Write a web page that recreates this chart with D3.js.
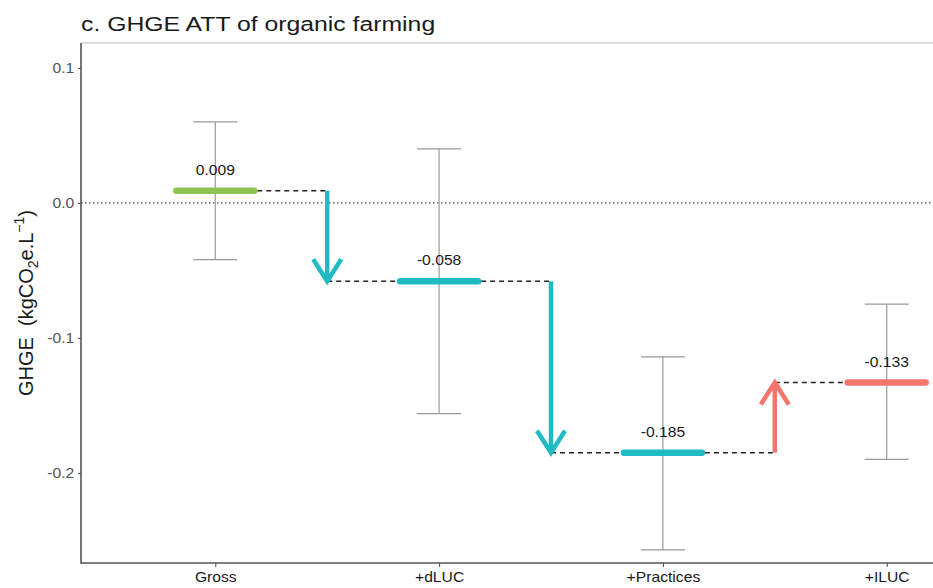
<!DOCTYPE html>
<html lang="en">
<head>
    <meta charset="UTF-8">
    <title>GHGE ATT of organic farming</title>
    <style>
        body { margin: 0; background: #fff; }
        svg { display: block; font-family: "Liberation Sans", Arial, sans-serif; }
    </style>
</head>
<body>
    <svg width="933" height="588"></svg>

    <script src="https://d3js.org/d3.v7.min.js"></script>
    <script>
        // chart data
        const categories = ["Gross", "+dLUC", "+Practices", "+ILUC"];
        const values = [0.009, -0.058, -0.185, -0.133];
        const upper = [0.060, 0.040, -0.114, -0.075];
        const lower = [-0.042, -0.156, -0.257, -0.190];
        const valueLabels = ["0.009", "-0.058", "-0.185", "-0.133"];
        const yTicks = [0.1, 0.0, -0.1, -0.2];
        const yTickLabels = ["0.1", "0.0", "-0.1", "-0.2"];

        const colGross = "#8fc350", colDown = "#1fbac2", colUp = "#f2766c";

        const svg = d3.select("svg");
        const panelLeft = 81, panelTop = 43, panelBottom = 563, panelRight = 1021;
        const stretch = 1.12; // the reference text is a bit wide

        const x = d3.scalePoint().domain(categories).range([panelLeft, panelRight]).padding(0.6);
        const y = d3.scaleLinear().domain([-0.2667, 0.1185]).range([panelBottom, panelTop]);

        // title
        svg.append("text")
            .attr("transform", "translate(81,31) scale(1.18,1)")
            .style("font-size", "21px").style("fill", "#1a1a1a")
            .text("c. GHGE ATT of organic farming");

        // panel top border
        svg.append("line")
            .attr("x1", panelLeft).attr("x2", 933).attr("y1", panelTop).attr("y2", panelTop)
            .style("stroke", "#bbb").style("stroke-width", 1);

        // zero reference line
        svg.append("line")
            .attr("x1", panelLeft).attr("x2", 933).attr("y1", y(0)).attr("y2", y(0))
            .style("stroke", "#444").style("stroke-width", 1.3)
            .style("stroke-dasharray", "1.5,2.5");

        // axes
        const yAxis = d3.axisLeft(y).tickValues(yTicks)
            .tickFormat((d, i) => yTickLabels[i]).tickSize(3).tickPadding(3);
        const gy = svg.append("g").attr("transform", `translate(${panelLeft},0)`).call(yAxis);
        gy.select(".domain").remove();
        gy.selectAll("line").style("stroke", "#444");
        gy.selectAll("text").style("font-size", "14px").style("fill", "#555")
            .style("font-family", "Liberation Sans, Arial, sans-serif")
            .attr("transform", `scale(${stretch},1)`);

        const xAxis = d3.axisBottom(x).tickSize(4).tickPadding(5);
        const gx = svg.append("g").attr("transform", `translate(0,${panelBottom})`).call(xAxis);
        gx.select(".domain").remove();
        gx.selectAll("line").style("stroke", "#444");
        gx.selectAll("text").style("font-size", "14px").style("fill", "#1a1a1a")
            .style("font-family", "Liberation Sans, Arial, sans-serif")
            .attr("transform", `scale(${stretch},1)`);

        svg.append("line").attr("x1", panelLeft).attr("x2", panelLeft).attr("y1", panelTop).attr("y2", panelBottom + 0.8)
            .style("stroke", "#555").style("stroke-width", 1.6);
        svg.append("line").attr("x1", panelLeft).attr("x2", 933).attr("y1", panelBottom).attr("y2", panelBottom)
            .style("stroke", "#555").style("stroke-width", 1.6);

        // y label
        const yl = svg.append("text")
            .attr("transform", `translate(33,${(panelTop + panelBottom) / 2}) rotate(-90)`)
            .attr("text-anchor", "middle")
            .style("font-size", "20px").style("fill", "#1a1a1a");
        yl.append("tspan").text("GHGE\u00a0 (kgCO");
        yl.append("tspan").attr("dy", 5).style("font-size", "14px").text("2");
        yl.append("tspan").attr("dy", -5).text("e.L");
        yl.append("tspan").attr("dy", -9).style("font-size", "14px").text("\u22121");
        yl.append("tspan").attr("dy", 9).text(")");

        const halfBar = 42, cap = 22;

        // error bars
        categories.forEach((c, i) => {
            const cx = x(c);
            const g = svg.append("g").style("stroke", "#999").style("stroke-width", 1.2);
            g.append("line").attr("x1", cx).attr("x2", cx).attr("y1", y(upper[i])).attr("y2", y(lower[i]));
            g.append("line").attr("x1", cx - cap).attr("x2", cx + cap).attr("y1", y(upper[i])).attr("y2", y(upper[i]));
            g.append("line").attr("x1", cx - cap).attr("x2", cx + cap).attr("y1", y(lower[i])).attr("y2", y(lower[i]));
        });

        // connectors and arrows
        for (let i = 1; i < categories.length; i++) {
            const prev = x(categories[i - 1]), cur = x(categories[i]);
            const ax = (prev + cur) / 2;
            const y0 = y(values[i - 1]), y1 = y(values[i]);
            const col = values[i] < values[i - 1] ? colDown : colUp;
            const dash = svg.append("g").style("stroke", "#222").style("stroke-width", 1.5)
                .style("stroke-dasharray", "5,4");
            dash.append("line").attr("x1", prev + halfBar).attr("x2", ax).attr("y1", y0).attr("y2", y0);
            dash.append("line").attr("x1", ax).attr("x2", cur - halfBar).attr("y1", y1).attr("y2", y1);

            const dir = y1 > y0 ? 1 : -1;
            svg.append("line").attr("x1", ax).attr("x2", ax).attr("y1", y0).attr("y2", y1 - dir * 2)
                .style("stroke", col).style("stroke-width", 4.5);
            svg.append("path")
                .attr("d", `M${ax - 14},${y1 - dir * 22}L${ax},${y1}L${ax + 14},${y1 - dir * 22}`)
                .style("fill", "none").style("stroke", col).style("stroke-width", 4.5)
                .style("stroke-linejoin", "miter");
        }

        // value bars
        categories.forEach((c, i) => {
            const cx = x(c);
            let col = colGross;
            if (i > 0) col = values[i] < values[i - 1] ? colDown : colUp;
            svg.append("line").attr("x1", cx - halfBar + 3).attr("x2", cx + halfBar - 3)
                .attr("y1", y(values[i])).attr("y2", y(values[i]))
                .style("stroke", col).style("stroke-width", 6.5).style("stroke-linecap", "round");
            svg.append("text")
                .attr("transform", `translate(${cx},${y(values[i]) - 16}) scale(${stretch},1)`)
                .attr("text-anchor", "middle")
                .style("font-size", "14px").style("fill", "#1a1a1a")
                .text(valueLabels[i]);
        });
    </script>
</body>
</html>
